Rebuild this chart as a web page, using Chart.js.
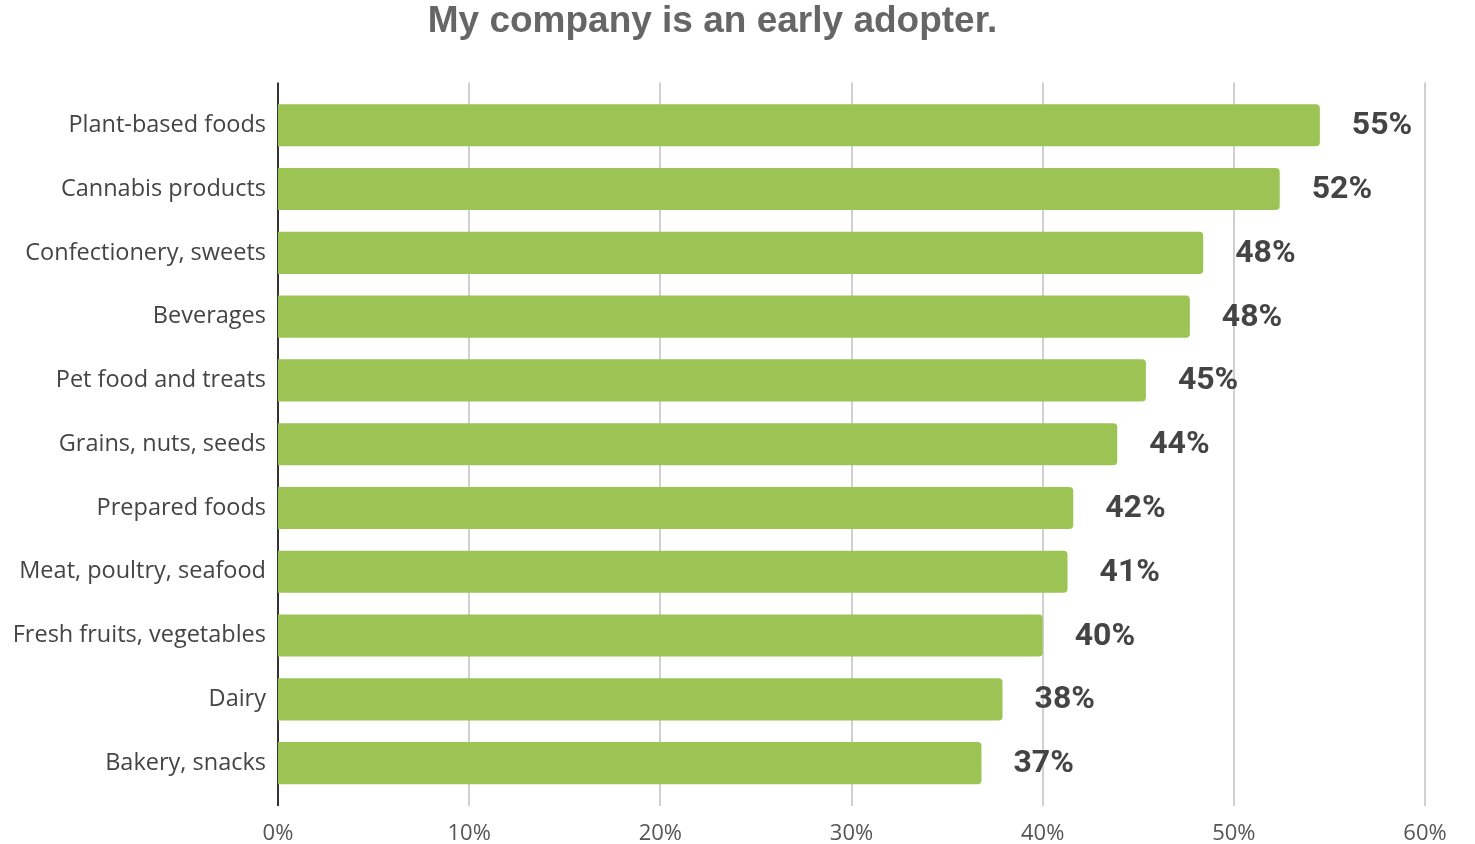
<!DOCTYPE html>
<html>
<head>
<meta charset="utf-8">
<script src="https://cdn.jsdelivr.net/npm/chart.js@4.4.1/dist/chart.umd.min.js"></script>
<style>
  body { margin: 0; background: #fff; }
  #wrap { width: 1475px; height: 844px; position: relative; }
</style>
</head>
<body>
<div id="wrap"><canvas id="adopterChart"></canvas></div>
<script>
// categories, top to bottom
var categories = [
  "Plant-based foods", "Cannabis products", "Confectionery, sweets", "Beverages",
  "Pet food and treats", "Grains, nuts, seeds", "Prepared foods", "Meat, poultry, seafood",
  "Fresh fruits, vegetables", "Dairy", "Bakery, snacks"
];
// bar lengths (percent)
var shares = [54.5, 52.4, 48.4, 47.7, 45.4, 43.9, 41.6, 41.3, 40.0, 37.9, 36.8];
// printed labels
var shareLabels = ["55%", "52%", "48%", "48%", "45%", "44%", "42%", "41%", "40%", "38%", "37%"];
var xTicks = [0, 10, 20, 30, 40, 50, 60];

// grid lines + axis line reach a bit past the plot area
var gridPlugin = {
  id: "gridExt",
  beforeDatasetsDraw: function (chart) {
    var ctx = chart.ctx, area = chart.chartArea, x = chart.scales.x;
    ctx.save();
    ctx.lineWidth = 2;
    ctx.strokeStyle = "#d0d0d0";
    xTicks.forEach(function (t) {
      if (t === 0) return;
      var px = Math.round(x.getPixelForValue(t));
      ctx.beginPath();
      ctx.moveTo(px, area.top - 11);
      ctx.lineTo(px, area.bottom + 11);
      ctx.stroke();
    });
    var x0 = Math.round(x.getPixelForValue(0));
    ctx.strokeStyle = "#333";
    ctx.beginPath();
    ctx.moveTo(x0, area.top - 11);
    ctx.lineTo(x0, area.bottom + 11);
    ctx.stroke();
    ctx.restore();
  }
};

// value labels to the right of each bar
var labelPlugin = {
  id: "valueLabels",
  afterDatasetsDraw: function (chart) {
    var ctx = chart.ctx;
    var meta = chart.getDatasetMeta(0);
    ctx.save();
    ctx.font = "bold 32px Roboto";
    ctx.fillStyle = "#444";
    ctx.textAlign = "left";
    ctx.textBaseline = "middle";
    meta.data.forEach(function (bar, i) {
      ctx.fillText(shareLabels[i], bar.x + 32, bar.y + 1);
    });
    ctx.restore();
  }
};

var ctx = document.getElementById("adopterChart").getContext("2d");
new Chart(ctx, {
  type: "bar",
  data: {
    labels: categories,
    datasets: [{
      data: shares,
      backgroundColor: "#9cc455",
      borderRadius: 4,
      barPercentage: 1,
      categoryPercentage: 0.66
    }]
  },
  options: {
    indexAxis: "y",
    responsive: true,
    maintainAspectRatio: false,
    animation: false,
    layout: { padding: { top: 0, right: 50, bottom: 0, left: 0 } },
    plugins: {
      legend: { display: false },
      tooltip: { enabled: false },
      title: {
        display: true,
        text: "My company is an early adopter.",
        color: "#666",
        font: { family: "Liberation Sans", size: 37, weight: "bold", lineHeight: 1.2 },
        padding: { top: 0, bottom: 49 }
      }
    },
    scales: {
      x: {
        min: 0,
        max: 60,
        afterBuildTicks: function (scale) {
          scale.ticks = xTicks.map(function (v) { return { value: v }; });
        },
        afterFit: function (scale) { scale.height = 49; },
        grid: { display: false },
        border: { display: false },
        ticks: {
          color: "#555",
          padding: 18,
          maxRotation: 0,
          font: { family: "Open Sans", size: 22, lineHeight: 1.2 },
          callback: function (v) { return v + "%"; }
        }
      },
      y: {
        afterFit: function (scale) { scale.width = 278; },
        grid: { display: false },
        border: { display: false },
        ticks: {
          color: "#444",
          padding: 4,
          font: { family: "Open Sans", size: 23.5 }
        }
      }
    }
  },
  plugins: [gridPlugin, labelPlugin]
});
</script>
</body>
</html>
